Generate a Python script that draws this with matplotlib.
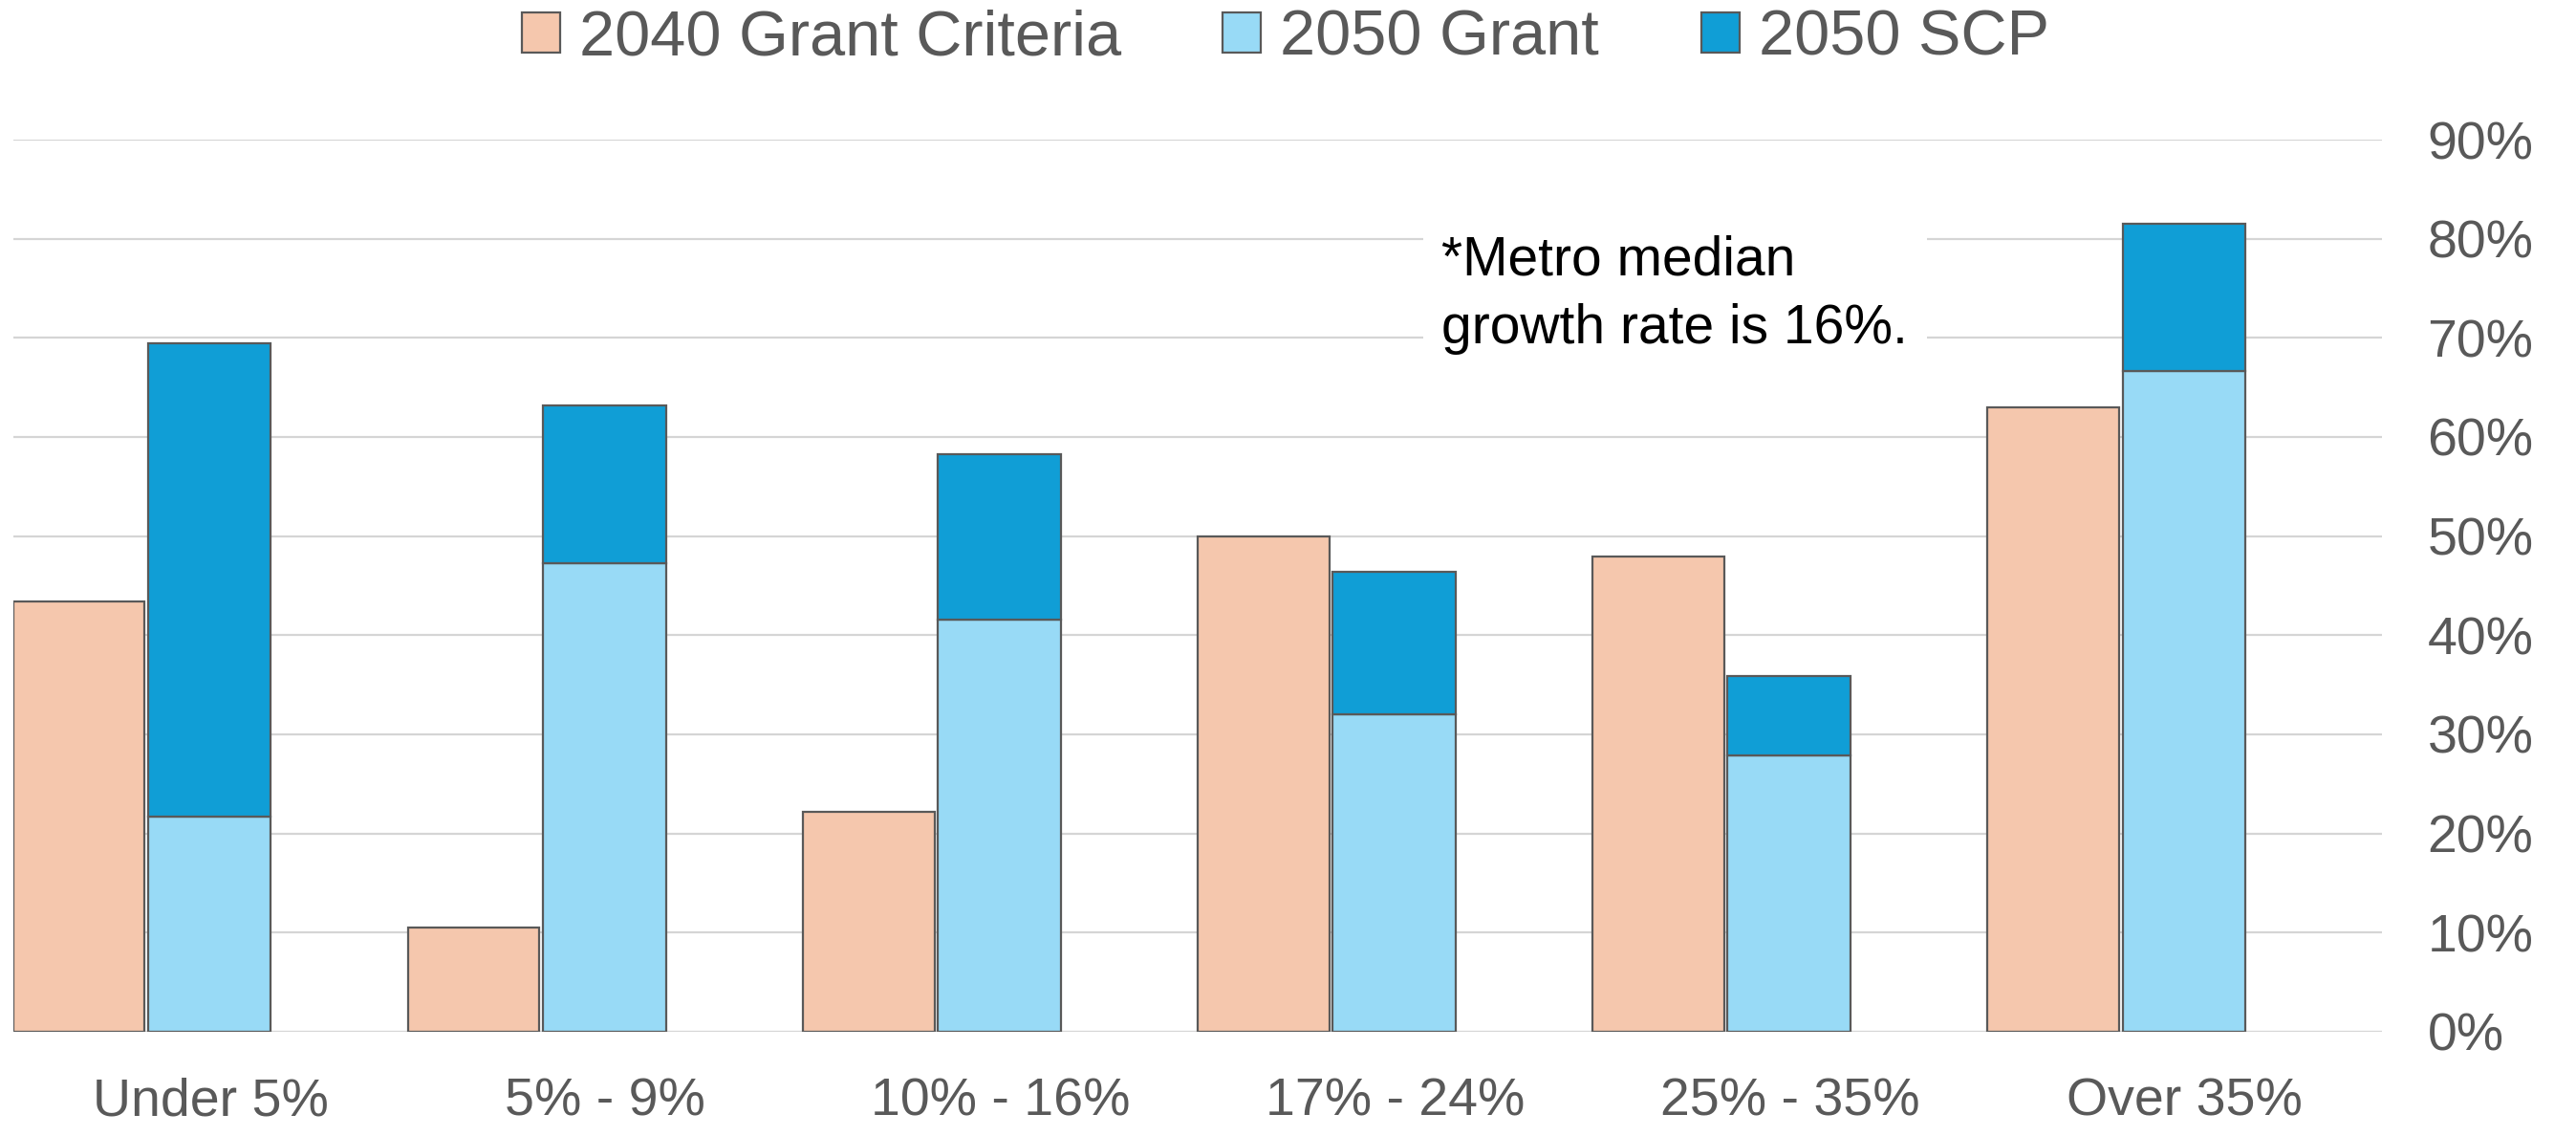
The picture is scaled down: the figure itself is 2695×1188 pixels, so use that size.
import matplotlib
matplotlib.use("Agg")
import matplotlib.pyplot as plt
import numpy as np
from matplotlib.ticker import PercentFormatter

categories = ["Under 5%", "5% - 9%", "10% - 16%", "17% - 24%", "25% - 35%", "Over 35%"]
grant_2040 = [0.434, 0.105, 0.222, 0.500, 0.479, 0.630]
grant_2050 = [0.217, 0.473, 0.416, 0.320, 0.279, 0.667]
scp_2050 = [0.478, 0.159, 0.167, 0.144, 0.080, 0.148]  # added on top of 2050 grant

PINK = "#F5C7AD"
LIGHT = "#98DAF6"
DARK = "#109ED6"
EDGE = "#595959"
GRID = "#D5D5D5"
TXT = "#595959"

plt.rcParams["font.family"] = ["Liberation Sans", "DejaVu Sans"]

fig = plt.figure(figsize=(26.95, 11.88), dpi=100)
ax = fig.add_axes([0.0051, 0.0918, 0.9197, 0.7853])

x = np.arange(len(categories))
ax.bar(x - 0.5, grant_2040, width=0.333, align="edge", color=PINK,
       edgecolor=EDGE, linewidth=1.6, label="2040 Grant Criteria", zorder=3)
ax.bar(x - 0.158, grant_2050, width=0.311, align="edge", color=LIGHT,
       edgecolor=EDGE, linewidth=1.6, label="2050 Grant", zorder=3)
ax.bar(x - 0.158, scp_2050, width=0.311, align="edge", bottom=grant_2050,
       color=DARK, edgecolor=EDGE, linewidth=1.6, label="2050 SCP", zorder=3)

ax.set_xlim(-0.5, 5.5)
ax.set_ylim(0, 0.9)
ax.set_yticks(np.arange(0, 0.91, 0.1))
ax.yaxis.set_major_formatter(PercentFormatter(1.0, decimals=0))
ax.yaxis.tick_right()
ax.set_xticks(x)
ax.set_xticklabels(categories)
ax.tick_params(axis="y", length=0, pad=34, labelsize=40, labelcolor=TXT)
ax.tick_params(axis="x", length=0, pad=34, labelsize=40, labelcolor=TXT)
ax.grid(axis="y", color=GRID, linewidth=1.6, zorder=0)
for s in ax.spines.values():
    s.set_visible(False)

ax.text(0.603, 0.893, "*Metro median\ngrowth rate is 16%.", transform=ax.transAxes,
        fontsize=41, color="black", va="top", ha="left", linespacing=1.4, zorder=4,
        bbox=dict(facecolor="white", edgecolor="none", pad=14))

fig.legend(loc="center", bbox_to_anchor=(0.499, 0.966), ncol=3, frameon=False,
           fontsize=48, handlelength=0.6, handleheight=0.6, handletextpad=0.3,
           columnspacing=1.6, labelcolor=TXT)

fig.savefig("out.png", dpi=100)
